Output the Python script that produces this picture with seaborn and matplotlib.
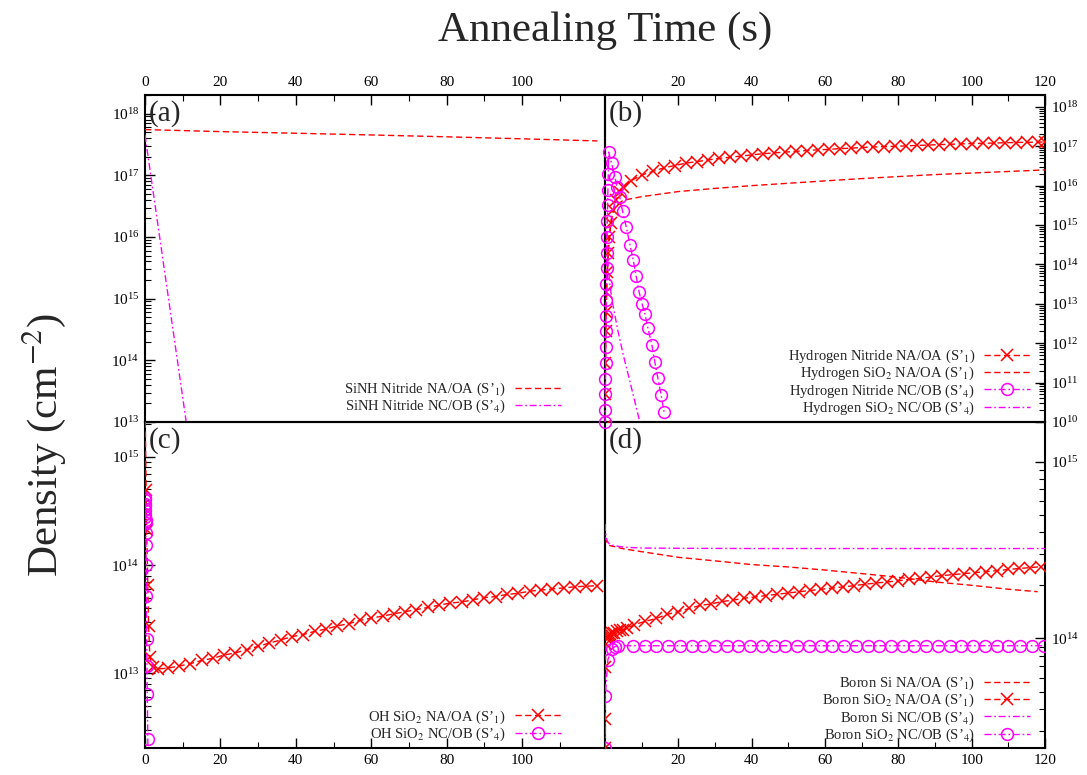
import numpy as np
import matplotlib
matplotlib.use("Agg")
import matplotlib.pyplot as plt
import seaborn as sns
from matplotlib.ticker import LogLocator, NullFormatter, FixedLocator

# ---------------- data ----------------
# (a) SiNH
ta_na = [0, 20, 40, 60, 80, 100, 120]
a_na = [5.5e17, 5.1e17, 4.8e17, 4.5e17, 4.2e17, 3.9e17, 3.6e17]
ta_nc = [0, 2, 4, 6, 8, 10, 12]
a_nc = [4.5e17, 6.3e16, 8.9e15, 1.26e15, 1.78e14, 2.5e13, 3.5e12]

# (b) Hydrogen
tb_nit_na = [0, 0.05, 0.1, 0.15, 0.25, 0.4, 0.6, 0.9, 1.2, 1.6, 2.2, 3, 4, 5,
             7, 10, 13, 16, 19, 22, 25, 28, 31, 34, 37, 40, 43, 46, 49, 52, 55, 58,
             61, 64, 67, 70, 73, 76, 79, 82, 85, 88, 91, 94, 97, 100, 103, 106, 109,
             112, 115, 118, 120]
b_nit_na = [7.9e9, 5.0e10, 3.2e11, 2.0e12, 6.3e12, 2.0e13, 6.3e13, 2.0e14, 5.0e14,
            1.1e15, 2.4e15, 4.2e15, 7.1e15, 9.5e15,
            1.32e16, 1.86e16, 2.29e16, 2.82e16, 3.24e16, 3.72e16, 4.07e16, 4.47e16,
            4.90e16, 5.25e16, 5.62e16, 6.03e16, 6.46e16, 6.76e16, 7.08e16, 7.41e16,
            7.76e16, 8.13e16, 8.32e16, 8.71e16, 8.91e16, 9.33e16, 9.55e16, 9.77e16,
            1.00e17, 1.02e17, 1.05e17, 1.07e17, 1.10e17, 1.12e17, 1.15e17, 1.17e17,
            1.19e17, 1.20e17, 1.23e17, 1.245e17, 1.26e17, 1.27e17, 1.29e17]
tb_sio_na = [0, 0.2, 0.5, 1.0, 1.8, 3, 5, 10, 20, 30, 40, 50, 60, 70, 80, 90, 100, 110, 120]
b_sio_na = [7.9e9, 1.0e12, 3.16e13, 4.0e14, 1.58e15, 3.16e15, 4.27e15, 5.25e15, 7.08e15,
            8.51e15, 1.0e16, 1.15e16, 1.32e16, 1.51e16, 1.70e16, 1.91e16, 2.09e16,
            2.29e16, 2.51e16]
tb_nit_nc = [0, 0.03, 0.06, 0.1, 0.14, 0.18, 0.22, 0.27, 0.32, 0.38, 0.44, 0.5, 0.57,
             0.64, 0.72, 0.8, 0.9, 1.0,
             1.8, 2.7, 3.3, 4.0, 4.8, 5.8, 6.8, 7.7, 8.5, 9.3, 10.1, 10.9, 11.7, 12.8,
             13.6, 14.4, 15.3, 16.1]
b_nit_nc = [1.0e10, 2.0e10, 5.0e10, 1.26e11, 3.16e11, 7.9e11, 2.0e12, 5.0e12, 1.26e13,
            3.16e13, 7.9e13, 2.0e14, 5.0e14, 1.26e15, 3.16e15, 7.9e15, 2.0e16, 7.1e16,
            3.7e16, 1.66e16, 9.1e15, 5.25e15, 2.24e15, 8.9e14, 3.16e14, 1.29e14, 5.0e13,
            2.0e13, 1.0e13, 5.6e12, 2.4e12, 8.9e11, 3.3e11, 1.32e11, 4.9e10, 1.78e10]
tb_sio_nc = [0, 0.3, 0.6, 1.0, 1.4, 2.0, 3.5, 5.0, 7.0, 9.5, 10.5]
b_sio_nc = [1.58e15, 7.9e14, 2.0e14, 6.3e13, 2.7e13, 1.12e13, 2.1e12, 5.0e11, 8.9e10,
            1.0e10, 4.0e9]

# (c) OH
tc_na = [0, 0.3, 0.45, 0.75, 0.95, 1.3, 2.0, 3.4,
         6, 9, 12, 15, 18, 21, 24, 27, 30, 33, 36, 39, 42, 45, 48, 51, 54, 57, 60, 63,
         66, 69, 72, 75, 78, 81, 84, 87, 90, 93, 96, 99, 102, 105, 108, 111, 114, 117, 120]
c_na = [3.2e15, 4.9e14, 2.1e14, 6.5e13, 2.75e13, 1.41e13, 1.15e13, 1.10e13,
        1.12e13, 1.17e13, 1.23e13, 1.32e13, 1.38e13, 1.48e13, 1.55e13, 1.66e13, 1.78e13,
        1.91e13, 2.04e13, 2.19e13, 2.29e13, 2.45e13, 2.57e13, 2.75e13, 2.88e13, 3.09e13,
        3.24e13, 3.39e13, 3.55e13, 3.72e13, 3.89e13, 4.07e13, 4.27e13, 4.47e13, 4.57e13,
        4.79e13, 5.01e13, 5.13e13, 5.37e13, 5.50e13, 5.75e13, 5.89e13, 6.03e13, 6.17e13,
        6.31e13, 6.40e13, 6.46e13]
tc_nc = [0, 0.02, 0.04, 0.06, 0.08, 0.1, 0.12, 0.15, 0.18, 0.22, 0.27, 0.32, 0.38,
         0.45, 0.52, 0.6, 0.75, 0.9]
c_nc = [4.2e14, 4.0e14, 3.7e14, 3.5e14, 3.2e14, 3.0e14, 2.8e14, 2.6e14, 2.45e14, 2.0e14,
        1.55e14, 1.0e14, 5.2e13, 2.1e13, 1.17e13, 6.5e12, 2.5e12, 1.0e12]

# (d) Boron
td_si_na = [0, 0.3, 1, 2, 5, 10, 20, 30, 40, 50, 60, 70, 80, 90, 100, 110, 118]
d_si_na = [3.76e14, 3.58e14, 3.37e14, 3.33e14, 3.22e14, 3.10e14, 2.88e14, 2.75e14,
           2.62e14, 2.54e14, 2.44e14, 2.33e14, 2.22e14, 2.09e14, 2.00e14, 1.90e14, 1.84e14]
td_sio_na = [0, 0.05, 0.1, 0.2, 0.35, 0.5, 0.7, 1.0, 1.4, 1.9, 2.5, 3.2, 4, 5, 6, 8,
             11, 14, 17, 20, 23, 26, 29, 32, 35, 38, 41, 44, 47, 50, 53, 56, 59, 62, 65,
             68, 71, 74, 77, 80, 83, 86, 89, 92, 95, 98, 101, 104, 107, 110, 113, 116, 119]
d_sio_na = [2.4e13, 3.5e13, 6.9e13, 9.3e13, 1.0e14, 1.02e14, 1.035e14, 1.05e14, 1.06e14,
            1.07e14, 1.08e14, 1.10e14, 1.11e14, 1.12e14, 1.14e14, 1.20e14,
            1.25e14, 1.30e14, 1.37e14, 1.42e14, 1.48e14, 1.54e14, 1.57e14, 1.62e14,
            1.65e14, 1.69e14, 1.72e14, 1.75e14, 1.78e14, 1.81e14, 1.84e14, 1.87e14,
            1.90e14, 1.93e14, 1.96e14, 1.99e14, 2.03e14, 2.06e14, 2.09e14, 2.12e14,
            2.16e14, 2.19e14, 2.23e14, 2.27e14, 2.30e14, 2.33e14, 2.36e14, 2.39e14,
            2.42e14, 2.46e14, 2.49e14, 2.52e14, 2.55e14]
td_si_nc = [0, 0.1, 0.3, 0.6, 1, 2, 5, 10, 20, 40, 60, 80, 100, 120]
d_si_nc = [4.45e14, 4.04e14, 3.76e14, 3.58e14, 3.45e14, 3.37e14, 3.29e14, 3.25e14, 3.24e14,
           3.23e14, 3.23e14, 3.23e14, 3.23e14, 3.23e14]
td_sio_nc = [0, 0.05, 0.8, 1.8, 2.7, 3.6,
             7.6, 10.8, 14.0, 17.2, 20.4, 23.6, 26.8, 30.0, 33.2, 36.4, 39.6, 42.8, 46.0,
             49.2, 52.4, 55.6, 58.8, 62.0, 65.2, 68.4, 71.6, 74.8, 78.0, 81.2, 84.4, 87.6,
             90.8, 94.0, 97.2, 100.4, 103.6, 106.8, 110.0, 113.2, 116.4, 119.6]
d_sio_nc = [2.4e13, 4.7e13, 7.6e13, 8.7e13, 9.0e13, 9.1e13,
            9.1e13, 9.1e13, 9.1e13, 9.1e13, 9.1e13, 9.1e13, 9.1e13, 9.1e13, 9.1e13,
            9.1e13, 9.1e13, 9.1e13, 9.1e13, 9.1e13, 9.1e13, 9.1e13, 9.1e13, 9.1e13,
            9.1e13, 9.1e13, 9.1e13, 9.1e13, 9.1e13, 9.1e13, 9.1e13, 9.1e13, 9.1e13,
            9.1e13, 9.1e13, 9.1e13, 9.1e13, 9.1e13, 9.1e13, 9.1e13, 9.1e13, 9.1e13]

labels_a = ["SiNH Nitride NA/OA (S\u2019$_1$)", "SiNH Nitride NC/OB (S\u2019$_4$)"]
labels_b = ["Hydrogen Nitride NA/OA (S\u2019$_1$)", "Hydrogen SiO$_2$ NA/OA (S\u2019$_1$)",
            "Hydrogen Nitride NC/OB (S\u2019$_4$)", "Hydrogen SiO$_2$ NC/OB (S\u2019$_4$)"]
labels_c = ["OH SiO$_2$ NA/OA (S\u2019$_1$)", "OH SiO$_2$ NC/OB (S\u2019$_4$)"]
labels_d = ["Boron Si NA/OA (S\u2019$_1$)", "Boron SiO$_2$ NA/OA (S\u2019$_1$)",
            "Boron Si NC/OB (S\u2019$_4$)", "Boron SiO$_2$ NC/OB (S\u2019$_4$)"]
xticks_left = [0, 20, 40, 60, 80, 100]
xticks_right = [20, 40, 60, 80, 100, 120]

# ---------------- style ----------------
sns.set_theme(style="ticks")
plt.rcParams['font.family'] = ['Liberation Serif', 'DejaVu Serif']
plt.rcParams['mathtext.fontset'] = 'stix'
plt.rcParams['axes.linewidth'] = 1.5

RED = '#ff0000'
MAG = '#ff00ff'
DASH = (4.5, 2.5)
DASHDOT = (5, 2, 1.2, 2)

fig = plt.figure(figsize=(10.87, 7.75), dpi=100)
L, M, R = 145 / 1087, 605 / 1087, 1045 / 1087
T, MY, B = 1 - 95 / 775, 1 - 422 / 775, 1 - 748 / 775
ax_a = fig.add_axes([L, MY, M - L, T - MY])
ax_c = fig.add_axes([L, B, M - L, MY - B])
ax_d = fig.add_axes([M, B, R - M, MY - B])
ax_b = fig.add_axes([M, MY, R - M, T - MY])

for ax in (ax_a, ax_b, ax_c, ax_d):
    ax.set_yscale('log')


def draw(ax, t, y, color, dashes, marker=None, ms=9, clip=True):
    kw = dict(marker=marker, markersize=ms, markeredgecolor=color,
              markerfacecolor='none', markeredgewidth=1.1) if marker else {}
    sns.lineplot(x=t, y=y, ax=ax, color=color, sort=False, estimator=None,
                 legend=False, linewidth=1.0, **kw)
    line = ax.lines[-1]
    line.set_dashes(dashes)
    line.set_clip_on(clip)
    return line


# (a)
ha = [draw(ax_a, ta_na, a_na, RED, DASH),
      draw(ax_a, ta_nc, a_nc, MAG, DASHDOT)]
# (b)
hb = [draw(ax_b, tb_nit_na, b_nit_na, RED, DASH, marker='x', ms=9),
      draw(ax_b, tb_sio_na, b_sio_na, RED, DASH),
      draw(ax_b, tb_nit_nc, b_nit_nc, MAG, DASHDOT, marker='o', ms=8.5, clip=False),
      draw(ax_b, tb_sio_nc, b_sio_nc, MAG, DASHDOT)]
# (c)
hc = [draw(ax_c, tc_na, c_na, RED, DASH, marker='x', ms=9),
      draw(ax_c, tc_nc, c_nc, MAG, DASHDOT, marker='o', ms=8.5)]
# (d)
hd = [draw(ax_d, td_si_na, d_si_na, RED, DASH),
      draw(ax_d, td_sio_na, d_sio_na, RED, DASH, marker='x', ms=9),
      draw(ax_d, td_si_nc, d_si_nc, MAG, DASHDOT),
      draw(ax_d, td_sio_nc, d_sio_nc, MAG, DASHDOT, marker='o', ms=8.5)]


def style(ax, xlim, ylim, xmajor, xpos, ypos):
    ax.set_xlim(*xlim)
    ax.set_ylim(*ylim)
    ax.set_xlabel('')
    ax.set_ylabel('')
    ax.xaxis.set_major_locator(FixedLocator(xmajor))
    ax.xaxis.set_minor_locator(FixedLocator([10, 30, 50, 70, 90, 110]))
    ax.yaxis.set_major_locator(LogLocator(base=10, numticks=50))
    ax.yaxis.set_minor_locator(LogLocator(base=10, subs=np.arange(2, 10), numticks=50))
    ax.yaxis.set_minor_formatter(NullFormatter())
    top = xpos == 'top'
    right = ypos == 'right'
    ax.tick_params(which='both', direction='in', top=top, bottom=not top,
                   labeltop=top, labelbottom=not top, left=not right, right=right,
                   labelleft=not right, labelright=right, colors='black')
    ax.tick_params(which='major', length=7, width=1.0, labelsize=11, pad=4)
    ax.tick_params(which='minor', length=4, width=0.8)
    for s in ax.spines.values():
        s.set_linewidth(1.5)
        s.set_color('black')
        s.set_zorder(1)
    ax.set_facecolor('none')


style(ax_a, (0, 122), (1e13, 2e18), xticks_left, 'top', 'left')
style(ax_b, (0, 120), (1e10, 2e18), xticks_right, 'top', 'right')
style(ax_c, (0, 122), (2.05e12, 2.1e15), xticks_left, 'bottom', 'left')
style(ax_d, (0, 120), (2.4e13, 1.68e15), xticks_right, 'bottom', 'right')

leg_kw = dict(loc='lower right', frameon=False, markerfirst=False, handlelength=3.2,
              handletextpad=0.6, labelspacing=0.0, borderaxespad=0, borderpad=0,
              fontsize=10.5)
ax_a.legend(ha, labels_a, bbox_to_anchor=(0.905, 0.02), **leg_kw)
ax_b.legend(hb, labels_b, bbox_to_anchor=(0.967, 0.015), **leg_kw)
ax_c.legend(hc, labels_c, bbox_to_anchor=(0.905, 0.015), **leg_kw)
ax_d.legend(hd, labels_d, bbox_to_anchor=(0.967, 0.012), **leg_kw)

for ax, lab in ((ax_a, '(a)'), (ax_b, '(b)'), (ax_c, '(c)'), (ax_d, '(d)')):
    ax.text(0.008, 0.985, lab, transform=ax.transAxes, ha='left', va='top', fontsize=21)

fig.text(605 / 1087, 1 - 31 / 775, 'Annealing Time (s)', ha='center', va='center',
         fontsize=31)
fig.text(44 / 1087, 1 - 445 / 775, 'Density (cm$^{-2}$)', ha='center', va='center',
         rotation=90, fontsize=31)

fig.savefig('out.png', dpi=100)
